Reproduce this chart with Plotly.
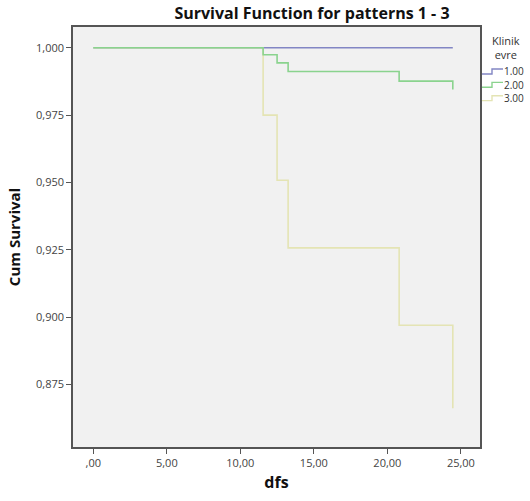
import plotly.graph_objects as go

# Data
groups = ["1.00", "2.00", "3.00"]
times_1 = [0.0, 24.45]
surv_1 = [1.000, 1.000]
times_2 = [0.0, 11.55, 12.5, 13.25, 20.8, 24.45]
surv_2 = [1.000, 0.9974, 0.9944, 0.9912, 0.9876, 0.9845]
times_3 = [0.0, 11.55, 12.5, 13.25, 20.8, 24.45]
surv_3 = [1.000, 0.975, 0.9508, 0.9257, 0.897, 0.8662]

y_tickvals = [0.875, 0.900, 0.925, 0.950, 0.975, 1.000]
y_ticktext = ["0,875", "0,900", "0,925", "0,950", "0,975", "1,000"]
x_tickvals = [0, 5, 10, 15, 20, 25]
x_ticktext = [",00", "5,00", "10,00", "15,00", "20,00", "25,00"]

colors = {"1.00": "#8286c4", "2.00": "#8ad38e", "3.00": "#e4e4b4"}
font_fam = "Open Sans, DejaVu Sans, sans-serif"

W, H = 530, 501
l_m, r_m, t_m, b_m = 73, 50, 27, 49
pw = W - l_m - r_m
ph = H - t_m - b_m


def fx(px):
    return (px - l_m) / pw


def fy(py):
    return 1 - (py - t_m) / ph


fig = go.Figure()
series = {"1.00": (times_1, surv_1), "2.00": (times_2, surv_2), "3.00": (times_3, surv_3)}
for g in ["1.00", "3.00", "2.00"]:
    t, s = series[g]
    fig.add_trace(go.Scatter(x=t, y=s, mode="lines", line=dict(shape="hv", color=colors[g], width=1.6),
                             name=g, showlegend=False, hoverinfo="x+y"))

# Manual legend (step icons + labels) in the right margin
fig.add_annotation(text="Klinik<br>evre", xref="paper", yref="paper", x=fx(506), y=fy(31), xanchor="center",
                   yanchor="top", showarrow=False, align="center",
                   font=dict(family=font_fam, size=11, color="#333333"))
leg_y = [72, 85.5, 99]
for g, yp in zip(groups, leg_y):
    x0, x1, x2 = 482, 492, 503
    fig.add_shape(type="path", xref="paper", yref="paper",
                  path=f"M {fx(x0)} {fy(yp + 2.5)} L {fx(x1)} {fy(yp + 2.5)} L {fx(x1)} {fy(yp - 2.5)} L {fx(x2)} {fy(yp - 2.5)}",
                  line=dict(color=colors[g], width=1.4))
    fig.add_annotation(text=g, xref="paper", yref="paper", x=fx(x2), y=fy(yp), xanchor="left", yanchor="middle",
                       showarrow=False, borderpad=0, font=dict(family=font_fam, size=10, color="#333333"))

fig.update_layout(
    width=W, height=H,
    margin=dict(l=l_m, r=r_m, t=t_m, b=b_m),
    paper_bgcolor="white",
    plot_bgcolor="#f1f1f1",
    title=dict(text="<b>Survival Function for patterns 1 - 3</b>", x=312 / W, xanchor="center",
               y=1 - 13 / H, yanchor="middle",
               font=dict(family=font_fam, size=16, color="#111111")),
    xaxis=dict(range=[-1.38, 26.3], tickvals=x_tickvals, ticktext=x_ticktext, showgrid=False, zeroline=False,
               showline=True, linecolor="#555555", linewidth=1.5, mirror=True, ticks="outside", ticklen=5,
               tickcolor="#555555", tickfont=dict(family=font_fam, size=11, color="#444444"),
               title=dict(text="<b>dfs</b>", font=dict(family=font_fam, size=16, color="#111111"), standoff=8)),
    yaxis=dict(range=[0.8518, 1.0077], tickvals=y_tickvals, ticktext=y_ticktext, showgrid=False, zeroline=False,
               showline=True, linecolor="#555555", linewidth=1.5, mirror=True, ticks="outside", ticklen=5,
               tickcolor="#555555", tickfont=dict(family=font_fam, size=11, color="#444444"),
               title=dict(text="<b>Cum Survival</b>", font=dict(family=font_fam, size=15, color="#111111"), standoff=12)),
)

fig.write_html("out.html", config={"displayModeBar": False},
               post_script="document.body.style.margin='0';")
